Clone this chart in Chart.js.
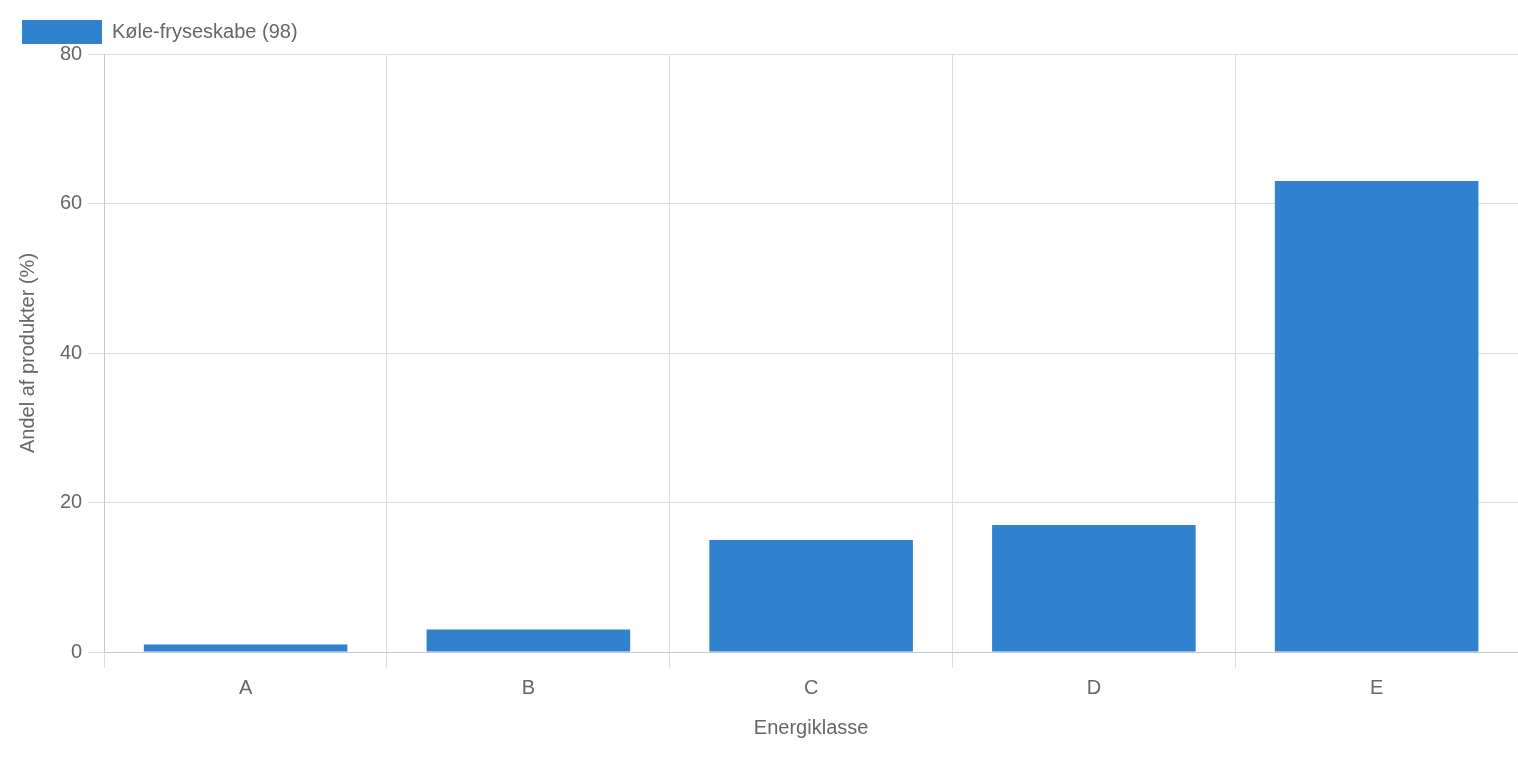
<!DOCTYPE html>
<html><head><meta charset="utf-8">
<script src="https://cdn.jsdelivr.net/npm/chart.js@4"></script>
<style>html,body{margin:0;padding:0;background:#fff}#w{width:1518px;height:758px}</style>
</head><body><div id="w"><canvas id="c"></canvas></div>
<script>
const categories = ["A","B","C","D","E"];
const values = [1,3,15,17,63];
const seriesLabel = "Køle-fryseskabe (98)";
Chart.defaults.font.family = "Helvetica, Arial, 'Liberation Sans', sans-serif";
Chart.defaults.color = "#666";
new Chart(document.getElementById('c'), {
  type: 'bar',
  data: { labels: categories, datasets: [{ label: seriesLabel, data: values, backgroundColor: '#3182CE' }] },
  options: {
    responsive: true, maintainAspectRatio: false, animation: false,
    layout: { padding: { left: 12, top: 10, right: 0, bottom: 14 } },
    plugins: { legend: { align: 'start', labels: { padding: 10, font: { size: 20 }, boxWidth: 80, boxHeight: 24 } }, tooltip: { enabled: false } },
    scales: {
      x: { title: { display: true, text: 'Energiklasse', font: { size: 20 }, padding: { top: 8 } }, ticks: { padding: 8, font: { size: 20 } }, grid: { color: '#ddd', tickLength: 16 } },
      y: { min: 0, max: 80, title: { display: true, text: 'Andel af produkter (%)', font: { size: 20 }, padding: { bottom: 14 } }, ticks: { stepSize: 20, padding: 6, font: { size: 20 } }, grid: { color: '#ddd', tickLength: 16 } }
    }
  }
});
</script></body></html>
